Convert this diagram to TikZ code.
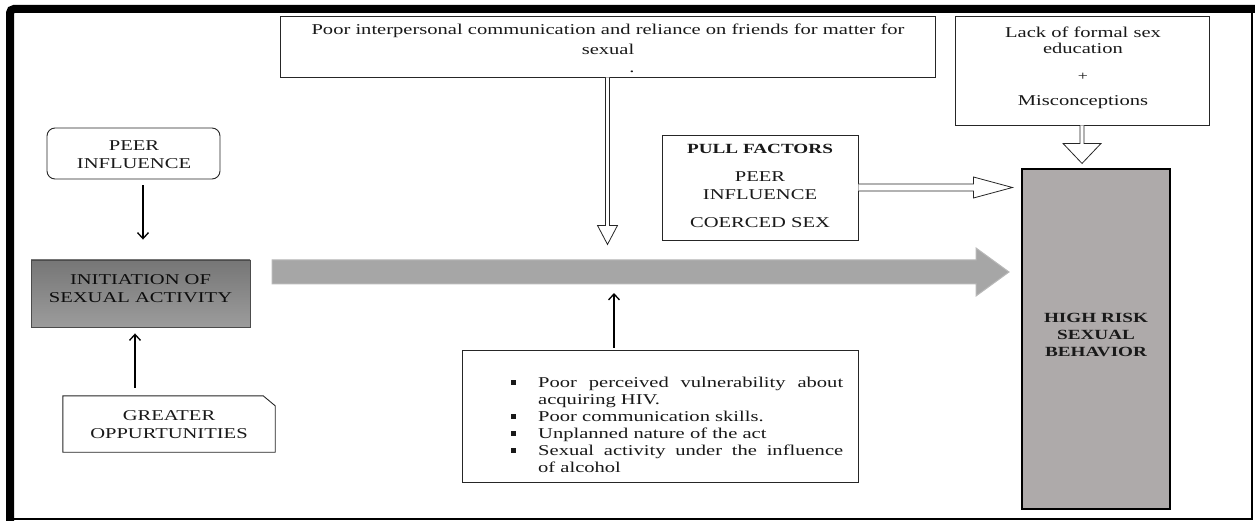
\documentclass[tikz,border=0pt]{standalone}
\usepackage{fontspec}
\setmainfont[FakeStretch=1.37]{Liberation Serif}
\usetikzlibrary{calc,arrows.meta}
\definecolor{boxline}{HTML}{262626}
\definecolor{flowfill}{HTML}{A6A6A6}
\definecolor{flowline}{HTML}{B8B8B8}
\definecolor{riskfill}{HTML}{AEAAAA}
\definecolor{inittop}{HTML}{767676}
\definecolor{initbot}{HTML}{9C9C9C}
\newcommand\lbul{\noindent\hangindent=28pt\hangafter=1\makebox[28pt][l]{\hspace{1pt}\rule[2.5pt]{4.5pt}{4.5pt}}}
\begin{document}
\begin{tikzpicture}[x=1pt,y=-1pt,
  box/.style={draw=boxline, line width=0.9pt, fill=white, inner sep=0pt},
  txt/.style={font=\fontsize{15}{18}\selectfont, align=center, inner sep=0pt, anchor=north, text=black!90},
  arr/.style={line width=1.3pt, -{Straight Barb[length=6pt,width=11pt,line width=1.3pt]}},
  hollow/.style={draw=boxline, line width=0.8pt, fill=white, line join=miter}]
\useasboundingbox (0,0) rectangle (1255,521);
% frame
\draw[line width=2pt] (10,9) rectangle (1252,519);
\draw[line width=8pt, rounded corners=4pt] (10,521) -- (10,9) -- (1255,9);

% boxes
\node[box, rounded corners=8pt, minimum width=173pt, minimum height=51pt] (peer) at (133.5,153.5) {};
\node[box, draw=black!70, top color=inittop, bottom color=initbot, minimum width=219pt, minimum height=67pt] (init) at (140.5,293.5) {};
\node[inner sep=0pt, minimum width=212pt, minimum height=56pt] (greater) at (169,424) {};
\draw[box] (greater.north west) -- ([xshift=-12pt]greater.north east) -- ([yshift=-10pt]greater.north east) -- (greater.south east) -- (greater.south west) -- cycle;
\node[box, minimum width=655pt, minimum height=61pt] (top) at (607.5,46.5) {};
\node[box, minimum width=254pt, minimum height=109pt] (lack) at (1082,70.5) {};
\node[box, minimum width=196pt, minimum height=105pt] (pull) at (760,187.5) {};
\node[box, draw=black, line width=1.2pt, fill=riskfill, minimum width=148pt, minimum height=340pt] (risk) at (1096,339) {};
\node[box, minimum width=396pt, minimum height=132pt] (list) at (660,416) {};

% texts
\node[txt] (peerT) at (134,140) {PEER\\INFLUENCE};
\node[txt, text=black!95] (initT) at (140.5,274) {INITIATION OF\\SEXUAL ACTIVITY};
\node[txt] (greaterT) at (169,410) {GREATER\\OPPURTUNITIES};
\node[txt, font=\fontsize{15}{20}\selectfont] (topT) at (608,24) {Poor interpersonal communication and reliance on friends for matter for\\sexual\\[-2pt]\hspace*{48pt}.};
\node[txt, font=\fontsize{15}{16}\selectfont] (lackT) at (1083,26.5) {Lack of formal sex\\education\\[11pt]{\fontsize{13}{13}\selectfont +}\\[9pt]Misconceptions};
\node[txt] (pullT) at (760,144.5) {{\fontsize{14}{18}\selectfont\bfseries PULL FACTORS}\\[10pt]PEER\\INFLUENCE\\[10pt]COERCED SEX};
\node[txt, font=\fontsize{14}{17}\selectfont\bfseries] (riskT) at (1096,313.5) {HIGH RISK\\SEXUAL\\BEHAVIOR};
\node[inner sep=0pt, anchor=north west, text width=333pt, align=justify, font=\fontsize{15}{17}\selectfont, text=black!90] (listT) at (510,376.5)
  {\lbul Poor perceived vulnerability about\linebreak acquiring HIV.\par
   \lbul Poor communication skills.\par
   \lbul Unplanned nature of the act\par
   \lbul Sexual activity under the influence\linebreak of alcohol\par};

% big flow arrow
\coordinate (fl) at (272,272);
\coordinate (ft) at (1009,272);
\draw[fill=flowfill, draw=flowline, line width=1pt] ($(fl)+(0,-12)$) -- ($(ft)+(-33,-12)$) -- ($(ft)+(-33,-24)$) -- (ft) -- ($(ft)+(-33,24)$) -- ($(ft)+(-33,12)$) -- ($(fl)+(0,12)$) -- cycle;
\coordinate (fbot) at (614,284);

% hollow arrows
\draw[hollow] ([xshift=-2pt]top.south) -- ++(0,148) -- ++(-8,0) -- ++(10,19) -- ++(10,-19) -- ++(-8,0) -- ++(0,-148);
\draw[hollow] ([xshift=-2pt]lack.south) -- ++(0,18) -- ++(-17,0) -- ++(19,20) -- ++(19,-20) -- ++(-17,0) -- ++(0,-18);
\draw[hollow] ([yshift=3.5pt]pull.east) -- ++(115,0) -- ++(0,-7) -- ++(39,10.5) -- ++(-39,10.5) -- ++(0,-7) -- ++(-115,0);

% black arrows
\draw[arr] ($(peer.south)+(9.5,6)$) -- ($(init.north)+(2.5,-20)$);
\draw[arr] ($(greater.north)+(-34,-8)$) -- ($(init.south)+(-5.5,6)$);
\draw[arr] ($(list.north)+(-46,-2)$) -- ($(fbot)+(0,9)$);
\end{tikzpicture}
\end{document}
